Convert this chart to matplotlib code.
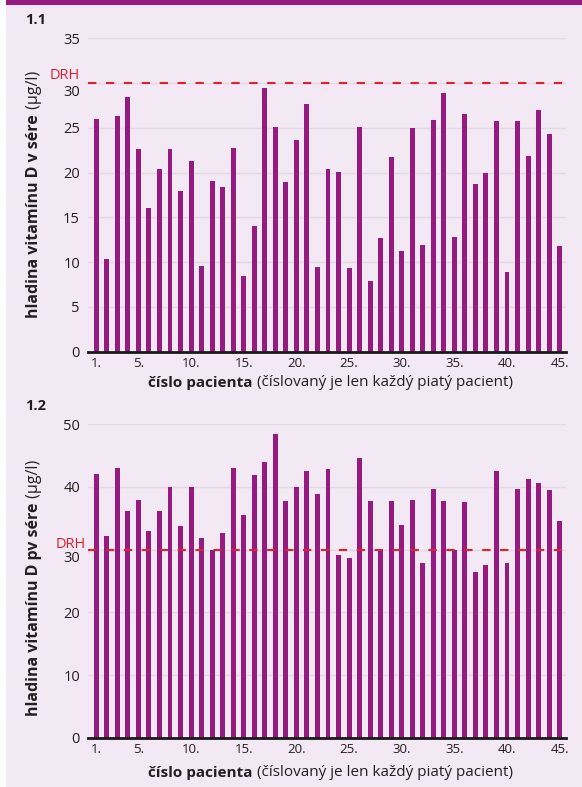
import matplotlib
matplotlib.use("Agg")
import matplotlib.pyplot as plt
from matplotlib.patches import Rectangle

plt.rcParams["font.family"] = ["Open Sans", "DejaVu Sans"]

# ==========================
# DATA
# ==========================

patients = list(range(1, 46))
tick_positions = [1, 5, 10, 15, 20, 25, 30, 35, 40, 45]
tick_labels = [f"{p}." for p in tick_positions]

# 1.1  vitamin D in serum (ug/l)
serum_d = [
    26.0, 10.3, 26.3, 28.4, 22.6, 16.1, 20.4, 22.6, 17.9, 21.3,
    9.6, 19.1, 18.4, 22.8, 8.4, 14.0, 29.4, 25.1, 18.9, 23.6,
    27.7, 9.5, 20.4, 20.1, 9.3, 25.1, 7.9, 12.7, 21.7, 11.3,
    25.0, 11.9, 25.9, 28.9, 12.8, 26.6, 18.7, 20.0, 25.8, 8.9,
    25.8, 21.9, 27.0, 24.3, 11.8,
]

# 1.2  vitamin D in serum after treatment (ug/l)
serum_d_pv = [
    42.0, 32.2, 43.0, 36.2, 37.9, 33.0, 36.2, 40.0, 33.7, 40.0,
    31.9, 30.0, 32.7, 43.0, 35.5, 41.9, 44.0, 48.5, 37.8, 40.0,
    42.5, 38.9, 42.8, 29.1, 28.7, 44.7, 37.8, 29.8, 37.8, 34.0,
    37.9, 27.8, 39.7, 37.8, 30.0, 37.6, 26.5, 27.5, 42.6, 27.8,
    39.7, 41.3, 40.6, 39.5, 34.5,
]

drh = 30

BAR_COLOR = "#951b81"
BG_COLOR = "#f3e9f4"
DRH_COLOR = "#e0202e"
GRID_COLOR = "#e2d9e2"
TEXT_COLOR = "#231f20"

W, H = 582, 787


def fx(px):
    return px / W


def fy(py):
    return 1 - py / H


fig = plt.figure(figsize=(5.82, 7.87), dpi=100)
fig.patch.set_facecolor("white")

fig.patches.append(Rectangle((fx(6), 0), 1, fy(5), transform=fig.transFigure,
                             facecolor=BG_COLOR, edgecolor="none", zorder=-10))
fig.patches.append(Rectangle((fx(6), fy(5)), 1, 5 / H, transform=fig.transFigure,
                             facecolor=BAR_COLOR, edgecolor="none", zorder=-10))


# ==========================
# PANEL
# ==========================

def draw_panel(top_px, bottom_px, values, ymax, step, title, label_bold,
               label_split_px, xlabel_px, drh_dx, drh_dy):

    ax = fig.add_axes([fx(88.3), fy(bottom_px), fx(566) - fx(88.3),
                       fy(top_px) - fy(bottom_px)])
    ax.set_facecolor("none")

    ax.bar(patients, values, width=0.47, color=BAR_COLOR, zorder=3)

    ax.set_xlim(0.24, 45.6)
    ax.set_ylim(0, ymax)

    yticks = list(range(0, ymax + 1, step))
    ax.set_yticks(yticks)
    ax.set_yticklabels(["" if t == drh else str(t) for t in yticks])
    ax.grid(axis="y", color=GRID_COLOR, linewidth=1.0, zorder=0)

    ax.set_xticks(tick_positions)
    ax.set_xticklabels(tick_labels)

    ax.tick_params(axis="y", length=0, pad=6, labelsize=10.5, labelcolor=TEXT_COLOR)
    ax.tick_params(axis="x", length=0, pad=4, labelsize=9.5, labelcolor=TEXT_COLOR)

    for side in ["top", "right", "left"]:
        ax.spines[side].set_visible(False)
    ax.spines["bottom"].set_linewidth(2.0)
    ax.spines["bottom"].set_color("#1a1a1a")
    ax.spines["bottom"].set_zorder(5)

    # moved "30" label, sits under the DRH line
    ax.annotate(str(drh), xy=(0, drh), xycoords=("axes fraction", "data"),
                xytext=(-6, -6.5), textcoords="offset points",
                ha="right", va="center", fontsize=10.5, color=TEXT_COLOR)

    # DRH line
    ax.axhline(drh, color=DRH_COLOR, linewidth=1.5,
               linestyle=(0, (4.0, 4.6)), zorder=4)
    ax.annotate("DRH", xy=(0, drh), xycoords=("axes fraction", "data"),
                xytext=(drh_dx, drh_dy), textcoords="offset points",
                ha="right", va="bottom", fontsize=10.5, color=DRH_COLOR,
                annotation_clip=False)

    # panel number
    fig.text(fx(25), fy(top_px - 18), title, fontsize=10.5, fontweight="bold",
             color=TEXT_COLOR, ha="left", va="center")

    # y label: bold part + unit
    fig.text(fx(34), fy(label_split_px), label_bold, rotation=90,
             fontsize=11.5, fontweight="bold", color=TEXT_COLOR,
             ha="center", va="top")
    fig.text(fx(34), fy(label_split_px - 1), " (µg/l)", rotation=90,
             fontsize=11.5, color=TEXT_COLOR, ha="center", va="bottom")

    # x label: bold part + note
    fig.text(fx(257), fy(xlabel_px), "číslo pacienta ", fontsize=11,
             fontweight="bold", color=TEXT_COLOR, ha="right", va="center")
    fig.text(fx(257), fy(xlabel_px), "(číslovaný je len každý piatý pacient)",
             fontsize=11, color=TEXT_COLOR, ha="left", va="center")

    return ax


draw_panel(38.3, 351.7, serum_d, 35, 5, "1.1", "hladina vitamínu D v sére",
           114, 383, -6, 0)
draw_panel(424.3, 737.7, serum_d_pv, 50, 10, "1.2", "hladina vitamínu D pv sére",
           503, 773, -2, -1.5)

fig.savefig("out.png", dpi=100, facecolor=fig.get_facecolor())
